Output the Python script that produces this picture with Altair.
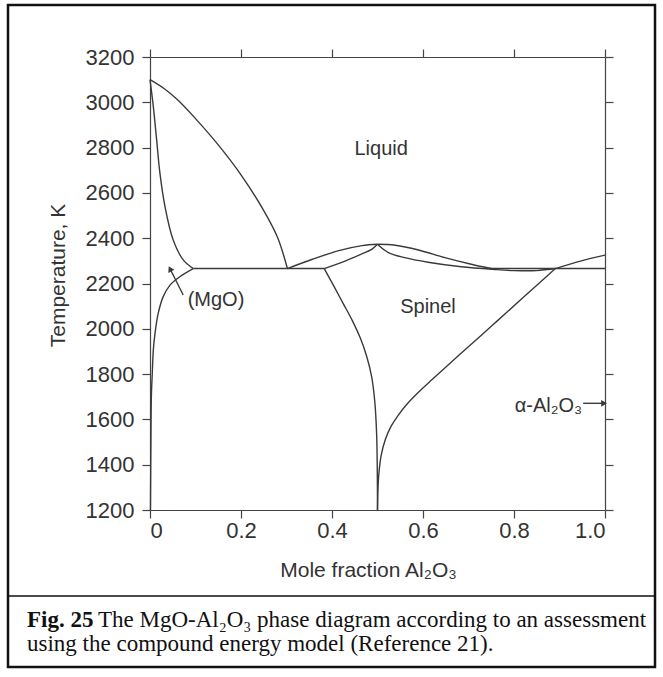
import altair as alt
import pandas as pd

# ---- phase boundaries (x = mole fraction Al2O3, T in K) ----
mgo_liquidus_x = [0.0, 0.03, 0.06, 0.10, 0.15, 0.20, 0.25, 0.28, 0.302]
mgo_liquidus_T = [3100, 3062, 3012, 2928, 2812, 2680, 2522, 2405, 2266]

mgo_solidus_x = [0.0, 0.0073, 0.0146, 0.0218, 0.033, 0.051, 0.073, 0.095]
mgo_solidus_T = [3100, 2981, 2834, 2687, 2539, 2392, 2304, 2266]

mgo_solvus_x = [0.095, 0.0655, 0.044, 0.029, 0.018, 0.011, 0.0073, 0.005, 0.003, 0.002, 0.001]
mgo_solvus_T = [2266, 2230, 2193, 2142, 2068, 1980, 1906, 1803, 1700, 1500, 1200]

eut_left_x = [0.095, 0.383]
eut_left_T = [2266, 2266]

sp_liq_left_x = [0.302, 0.357, 0.415, 0.466, 0.50]
sp_liq_left_T = [2266, 2307, 2345, 2367, 2373]

sp_sol_left_x = [0.383, 0.43, 0.468, 0.488, 0.50]
sp_sol_left_T = [2266, 2300, 2333, 2352, 2373]

sp_liq_right_x = [0.50, 0.539, 0.59, 0.648, 0.706, 0.75]
sp_liq_right_T = [2373, 2369, 2348, 2314, 2285, 2266]

sp_sol_right_x = [0.50, 0.524, 0.56, 0.611, 0.684, 0.757, 0.80, 0.85, 0.891]
sp_sol_right_T = [2373, 2336, 2314, 2294, 2274, 2262, 2257, 2257, 2266]

eut_right_x = [0.745, 1.0]
eut_right_T = [2266, 2266]

al_liq_x = [0.891, 0.946, 1.0]
al_liq_T = [2266, 2299, 2325]

sp_solvus_left_x = [0.383, 0.405, 0.425, 0.445, 0.462, 0.476, 0.487, 0.494, 0.498, 0.4995, 0.5]
sp_solvus_left_T = [2266, 2185, 2110, 2035, 1960, 1880, 1790, 1680, 1540, 1380, 1200]

sp_solvus_right_x = [0.891, 0.82, 0.75, 0.68, 0.62, 0.59, 0.565, 0.545, 0.53, 0.517, 0.508, 0.503, 0.501, 0.5]
sp_solvus_right_T = [2266, 2138, 2011, 1885, 1776, 1720, 1668, 1617, 1570, 1510, 1440, 1360, 1290, 1200]

# arrows
mgo_arrow_x = [0.073, 0.044]
mgo_arrow_T = [2149, 2265]
al_arrow_x = [0.952, 0.998]
al_arrow_T = [1671, 1671]

# labels
label_text = ["Liquid", "Spinel", "(MgO)"]
label_x = [0.508, 0.611, 0.145]
label_T = [2792, 2095, 2127]

al_label = "α-Al₂O₃"
al_label_x = 0.95
al_label_T = 1660

x_ticks = [0, 0.2, 0.4, 0.6, 0.8, 1.0]
y_ticks = [1200, 1400, 1600, 1800, 2000, 2200, 2400, 2600, 2800, 3000, 3200]

caption_bold = "Fig. 25"
caption_line1 = "The MgO-Al₂O₃ phase diagram according to an assessment"
caption_line2 = "using the compound energy model (Reference 21)."

# ---- build tables ----
curves = {
    "mgo_liquidus": (mgo_liquidus_x, mgo_liquidus_T),
    "mgo_solidus": (mgo_solidus_x, mgo_solidus_T),
    "mgo_solvus": (mgo_solvus_x, mgo_solvus_T),
    "eut_left": (eut_left_x, eut_left_T),
    "sp_liq_left": (sp_liq_left_x, sp_liq_left_T),
    "sp_sol_left": (sp_sol_left_x, sp_sol_left_T),
    "sp_liq_right": (sp_liq_right_x, sp_liq_right_T),
    "sp_sol_right": (sp_sol_right_x, sp_sol_right_T),
    "eut_right": (eut_right_x, eut_right_T),
    "al_liq": (al_liq_x, al_liq_T),
    "sp_solvus_left": (sp_solvus_left_x, sp_solvus_left_T),
    "sp_solvus_right": (sp_solvus_right_x, sp_solvus_right_T),
    "mgo_arrow": (mgo_arrow_x, mgo_arrow_T),
    "al_arrow": (al_arrow_x, al_arrow_T),
}
rows = []
for name, (xs_, ts_) in curves.items():
    for i, (xv, tv) in enumerate(zip(xs_, ts_)):
        rows.append({"curve": name, "i": i, "x": xv, "T": tv})
lines_df = pd.DataFrame(rows)

labels_df = pd.DataFrame({"text": label_text, "x": label_x, "T": label_T})
al_df = pd.DataFrame({"text": [al_label], "x": [al_label_x], "T": [al_label_T]})
heads_df = pd.DataFrame({
    "x": [mgo_arrow_x[1], al_arrow_x[1]],
    "T": [mgo_arrow_T[1], al_arrow_T[1]],
    "shape": ["triangle-up", "triangle-right"],
    "angle": [333, 0],
})
dummy = pd.DataFrame({"a": [0]})

LINE = "#3a3a3a"
TXT = "#333333"
SANS = "Liberation Sans"
SERIF = "Liberation Serif"

xs = alt.Scale(domain=[0, 1], nice=False, zero=False)
ys = alt.Scale(domain=[1200, 3200], nice=False, zero=False)

common_axis = dict(
    domainColor="#444444", domainWidth=1.2, tickColor="#444444", tickWidth=1.2,
    tickSize=8, grid=False, labelFont=SANS, labelFontSize=22, labelColor=TXT,
)

axes_main = alt.Chart(lines_df).mark_point(opacity=0).encode(
    x=alt.X("x:Q", scale=xs, axis=alt.Axis(
        orient="bottom", values=x_ticks, labelPadding=2,
        labelExpr="datum.value == 0 ? '0' : format(datum.value, '.1f')",
        title="Mole fraction Al₂O₃", titleFont=SANS, titleFontSize=21,
        titleFontWeight="normal", titleColor=TXT, titleX=218, titleY=60,
        titleBaseline="middle", titleAlign="center", **common_axis)),
    y=alt.Y("T:Q", scale=ys, axis=alt.Axis(
        orient="left", values=y_ticks, labelPadding=8, format="d",
        title="Temperature, K", titleFont=SANS, titleFontSize=21,
        titleFontWeight="normal", titleColor=TXT, titleX=-92, titleY=218,
        titleAngle=270, titleBaseline="middle", titleAlign="center", **common_axis)),
)

axes_mirror = alt.Chart(lines_df).mark_point(opacity=0).encode(
    x=alt.X("x:Q", scale=xs, axis=alt.Axis(
        orient="top", values=x_ticks, labels=False, title=None, **common_axis)),
    y=alt.Y("T:Q", scale=ys, axis=alt.Axis(
        orient="right", values=y_ticks, labels=False, title=None, **common_axis)),
)

curves_layer = alt.Chart(lines_df).mark_line(
    color=LINE, strokeWidth=1.4, interpolate="catmull-rom"
).encode(
    x=alt.X("x:Q", scale=xs, axis=None),
    y=alt.Y("T:Q", scale=ys, axis=None),
    detail="curve:N",
    order="i:Q",
)

heads_layer = alt.Chart(heads_df).mark_point(
    filled=True, color=LINE, opacity=1, size=45, strokeWidth=0
).encode(
    x=alt.X("x:Q", scale=xs, axis=None),
    y=alt.Y("T:Q", scale=ys, axis=None),
    shape=alt.Shape("shape:N", scale=None),
    angle=alt.Angle("angle:Q", scale=None),
)

labels_layer = alt.Chart(labels_df).mark_text(
    font=SANS, fontSize=20, color=TXT, align="center", baseline="middle"
).encode(
    x=alt.X("x:Q", scale=xs, axis=None),
    y=alt.Y("T:Q", scale=ys, axis=None),
    text="text:N",
)

al_layer = alt.Chart(al_df).mark_text(
    font=SANS, fontSize=20, color=TXT, align="right", baseline="middle"
).encode(
    x=alt.X("x:Q", scale=xs, axis=None),
    y=alt.Y("T:Q", scale=ys, axis=None),
    text="text:N",
)

# frame and caption (pixel positions relative to plot origin at 150,57)
frame = alt.Chart(dummy).mark_rect(filled=False, stroke="#111111", strokeWidth=2.5).encode(
    x=alt.value(-142), x2=alt.value(505), y=alt.value(-52), y2=alt.value(610)
)
separator = alt.Chart(dummy).mark_rule(color="#111111", strokeWidth=1.5).encode(
    x=alt.value(-142), x2=alt.value(505), y=alt.value(539)
)
cap_bold = alt.Chart(dummy).mark_text(
    font=SERIF, fontSize=23, fontWeight="bold", color="#111111", align="left", baseline="middle"
).encode(x=alt.value(-123), y=alt.value(563), text=alt.value(caption_bold))
cap_l1 = alt.Chart(dummy).mark_text(
    font=SERIF, fontSize=23, color="#111111", align="left", baseline="middle"
).encode(x=alt.value(-52), y=alt.value(563), text=alt.value(caption_line1))
cap_l2 = alt.Chart(dummy).mark_text(
    font=SERIF, fontSize=23, color="#111111", align="left", baseline="middle"
).encode(x=alt.value(-123), y=alt.value(587), text=alt.value(caption_line2))

chart = alt.layer(
    axes_main, axes_mirror, curves_layer, heads_layer, labels_layer, al_layer,
    frame, separator, cap_bold, cap_l1, cap_l2,
).resolve_axis(x="independent", y="independent").properties(
    width=455, height=453,
    padding={"left": 150, "top": 57, "right": 58, "bottom": 167},
    autosize=alt.AutoSizeParams(type="none"),
    background="white",
).configure_view(stroke=None)

chart.save("out.html", embed_options={"renderer": "svg", "actions": False})
